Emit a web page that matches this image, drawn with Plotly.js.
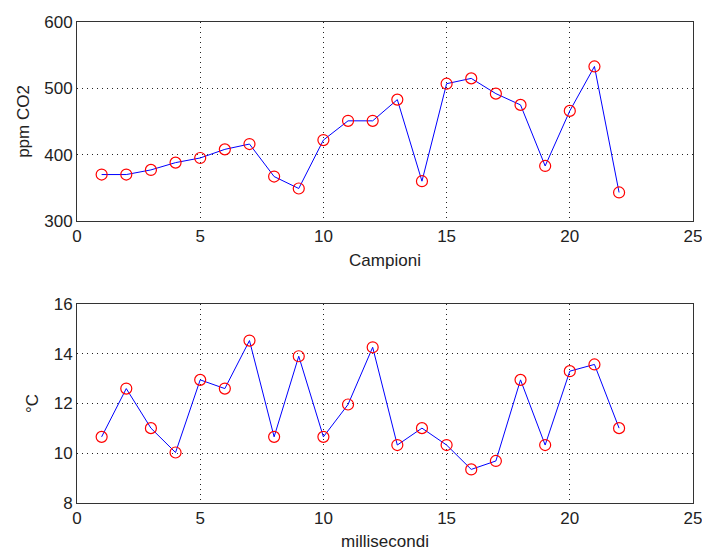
<!DOCTYPE html>
<html>
<head>
<meta charset="utf-8">
<script src="https://cdn.plot.ly/plotly-3.0.1.min.js"></script>
<style>html,body{margin:0;padding:0;background:#fff;}#chart{width:702px;height:551px;}</style>
</head>
<body>
<div id="chart"></div>
<script>
var campioni = [1,2,3,4,5,6,7,8,9,10,11,12,13,14,15,16,17,18,19,20,21,22];
var co2 = [370,370,377,388,395,408,416,367,349,422,451,451,483,360,507,515,492,475,383,466,533,343];
var temperatura = [10.66,12.60,11.01,10.03,12.95,12.60,14.53,10.66,13.90,10.66,11.96,14.26,10.33,11.01,10.33,9.35,9.69,12.95,10.33,13.30,13.57,11.01];
var xTicks = [0,5,10,15,20,25];
var yTicksTop = [300,400,500,600];
var yTicksBottom = [8,10,12,14,16];
var xTitleTop = 'Campioni';
var xTitleBottom = 'millisecondi';
var yTitleTop = 'ppm CO2';
var yTitleBottom = '°C';

var fontFam = '"Liberation Sans", Arial, sans-serif';
function trace(y, xa, ya) {
  return {
    x: campioni, y: y, xaxis: xa, yaxis: ya,
    type: 'scatter', mode: 'lines+markers',
    line: {color: '#0000ff', width: 1},
    marker: {symbol: 'circle-open', color: '#ff0000', size: 11, line: {width: 1.2, color: '#ff0000'}},
    hoverinfo: 'skip', showlegend: false
  };
}
function xax(anchor, title) {
  return {
    domain: [0, 1], anchor: anchor, range: [-0.0001, 25.0001],
    tickvals: xTicks, ticktext: xTicks.map(String),
    showline: true, mirror: true, linecolor: '#333', linewidth: 1,
    showgrid: true, gridcolor: '#222', griddash: '1px,4px', gridwidth: 1,
    zeroline: false, ticks: '', ticklabeloverflow: 'allow',
    tickfont: {family: fontFam, size: 17, color: '#222'},
    title: {text: title, font: {family: fontFam, size: 17, color: '#222'}, standoff: 8},
    automargin: false
  };
}
function yax(domain, anchor, range, ticks, title) {
  return {
    domain: domain, anchor: anchor, range: range,
    tickvals: ticks, ticktext: ticks.map(String),
    showline: true, mirror: true, linecolor: '#333', linewidth: 1,
    showgrid: true, gridcolor: '#222', griddash: '1px,4px', gridwidth: 1,
    zeroline: false, ticks: '', ticklabeloverflow: 'allow',
    tickfont: {family: fontFam, size: 17, color: '#222'},
    title: {text: title, font: {family: fontFam, size: 17, color: '#222'}, standoff: 10},
    automargin: false
  };
}
var data = [trace(co2, 'x', 'y'), trace(temperatura, 'x2', 'y2')];
var layout = {
  width: 702, height: 551,
  margin: {l: 77, r: 9, t: 22, b: 48},
  paper_bgcolor: '#fff', plot_bgcolor: '#fff',
  xaxis: xax('y', xTitleTop),
  yaxis: yax([0.5863, 1], 'x', [300, 600], yTicksTop, yTitleTop),
  xaxis2: xax('y2', xTitleBottom),
  yaxis2: yax([0, 0.4137], 'x2', [8, 16], yTicksBottom, yTitleBottom),
  showlegend: false
};
Plotly.newPlot('chart', data, layout, {displayModeBar: false, staticPlot: true});
</script>
</body>
</html>
